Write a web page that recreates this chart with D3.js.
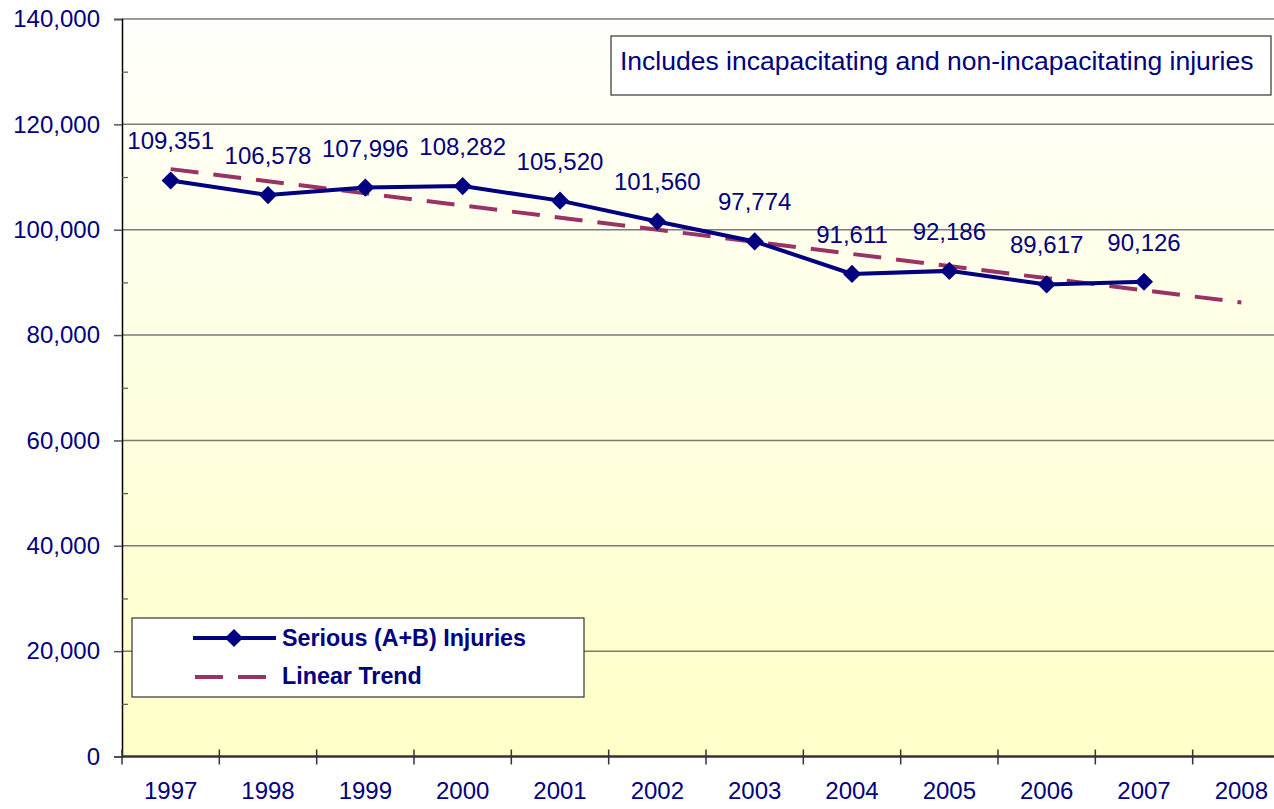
<!DOCTYPE html>
<html>
<head>
<meta charset="utf-8">
<script src="https://cdn.jsdelivr.net/npm/d3@7"></script>
<style>
  body { margin: 0; background: #fff; }
  svg text { font-family: "Liberation Sans", Arial, sans-serif; fill: #000080; }
</style>
</head>
<body>
<div class="chart"></div>
<script>
// data
var years = ["1997","1998","1999","2000","2001","2002","2003","2004","2005","2006","2007","2008"];
var injuryYears = ["1997","1998","1999","2000","2001","2002","2003","2004","2005","2006","2007"];
var injuries = [109351, 106578, 107996, 108282, 105520, 101560, 97774, 91611, 92186, 89617, 90126];
var trendYears = ["1997", "2008"];
var trendValues = [111500, 86200];
var yTicks = [0, 20000, 40000, 60000, 80000, 100000, 120000, 140000];
var yMinorTicks = [10000, 30000, 50000, 70000, 90000, 110000, 130000];
var noteText = "Includes incapacitating and non-incapacitating injuries";

var W = 1274, H = 809;
var plotLeft = 122, plotRight = 1290, plotTop = 19, plotBottom = 756.5;
var navy = "#000080", trendColor = "#993366";

var svg = d3.select(".chart")
  .append("svg")
  .attr("width", W)
  .attr("height", H);

var defs = svg.append("defs");
var grad = defs.append("linearGradient")
  .attr("id", "bg").attr("x1", 0).attr("y1", 0).attr("x2", 0).attr("y2", 1);
grad.append("stop").attr("offset", "0%").attr("stop-color", "#fffffb");
grad.append("stop").attr("offset", "100%").attr("stop-color", "#ffffc8");

var x = d3.scaleBand().domain(years).range([plotLeft, plotRight]);
var y = d3.scaleLinear().domain([0, 140000]).range([plotBottom, plotTop]);
var cx = function(d) { return x(d) + x.bandwidth() / 2; };

svg.append("rect")
  .attr("x", plotLeft).attr("y", plotTop)
  .attr("width", plotRight - plotLeft).attr("height", plotBottom - plotTop)
  .attr("fill", "url(#bg)");

// gridlines
svg.selectAll(".grid")
  .data(yTicks.filter(function(d) { return d > 0; }))
  .enter().append("line")
  .attr("x1", plotLeft).attr("x2", plotRight)
  .attr("y1", function(d) { return y(d); })
  .attr("y2", function(d) { return y(d); })
  .attr("stroke", "#7a7a7a")
  .attr("stroke-width", 1.5);

// y axis
var yAxis = svg.append("g")
  .attr("transform", "translate(" + plotLeft + ",0)")
  .call(d3.axisLeft(y).tickValues(yTicks).tickSize(8).tickPadding(14)
    .tickFormat(d3.format(",")));
yAxis.select(".domain").attr("stroke", "#000").attr("stroke-width", 1.5);
yAxis.selectAll(".tick line").attr("stroke", "#555").attr("stroke-width", 1.5);
yAxis.selectAll("text")
  .style("font-size", "24px")
  .attr("fill", navy);

svg.append("g")
  .attr("transform", "translate(" + plotLeft + ",0)")
  .call(d3.axisRight(y).tickValues(yMinorTicks).tickSize(6).tickFormat(""))
  .call(function(g) {
    g.select(".domain").remove();
    g.selectAll(".tick line").attr("stroke", "#555").attr("stroke-width", 1.2);
  });

// x axis
var xAxis = svg.append("g")
  .attr("transform", "translate(0," + plotBottom + ")")
  .call(d3.axisBottom(x).tickSize(0).tickPadding(25));
xAxis.select(".domain").remove();
xAxis.selectAll("text")
  .style("font-size", "24px")
  .attr("fill", navy);

svg.append("line")
  .attr("x1", plotLeft).attr("x2", plotRight)
  .attr("y1", plotBottom).attr("y2", plotBottom)
  .attr("stroke", "#333").attr("stroke-width", 2.5);

svg.selectAll(".xtick")
  .data(years)
  .enter().append("line")
  .attr("x1", function(d) { return x(d); })
  .attr("x2", function(d) { return x(d); })
  .attr("y1", plotBottom - 7).attr("y2", plotBottom + 8)
  .attr("stroke", "#333").attr("stroke-width", 1.5);

// trend
svg.append("path")
  .datum(trendValues)
  .attr("d", d3.line()
    .x(function(d, i) { return cx(trendYears[i]); })
    .y(function(d) { return y(d); }))
  .attr("fill", "none")
  .attr("stroke", trendColor)
  .attr("stroke-width", 4)
  .attr("stroke-dasharray", "28,15");

// injuries line
svg.append("path")
  .datum(injuries)
  .attr("d", d3.line()
    .x(function(d, i) { return cx(injuryYears[i]); })
    .y(function(d) { return y(d); }))
  .attr("fill", "none")
  .attr("stroke", navy)
  .attr("stroke-width", 4);

var diamond = d3.symbol().type(d3.symbolDiamond2).size(210);

svg.selectAll(".pt")
  .data(injuries)
  .enter().append("path")
  .attr("d", diamond)
  .attr("transform", function(d, i) {
    return "translate(" + cx(injuryYears[i]) + "," + y(d) + ")";
  })
  .attr("fill", navy);

svg.selectAll(".lbl")
  .data(injuries)
  .enter().append("text")
  .attr("x", function(d, i) { return cx(injuryYears[i]); })
  .attr("y", function(d) { return y(d) - 31; })
  .attr("text-anchor", "middle")
  .style("font-size", "24px")
  .text(function(d) { return d3.format(",")(d); });

// note box
svg.append("rect")
  .attr("x", 611).attr("y", 36)
  .attr("width", 660).attr("height", 59)
  .attr("fill", "#fff").attr("stroke", "#333").attr("stroke-width", 1.2);
svg.append("text")
  .attr("x", 620).attr("y", 70)
  .style("font-size", "26.5px")
  .text(noteText);

// legend
var legend = svg.append("g");
legend.append("rect")
  .attr("x", 132).attr("y", 618)
  .attr("width", 452).attr("height", 79)
  .attr("fill", "#fff").attr("stroke", "#333").attr("stroke-width", 1.2);
legend.append("line")
  .attr("x1", 193).attr("x2", 276).attr("y1", 638).attr("y2", 638)
  .attr("stroke", navy).attr("stroke-width", 4);
legend.append("path")
  .attr("d", diamond)
  .attr("transform", "translate(234,638)")
  .attr("fill", navy);
legend.append("line")
  .attr("x1", 195).attr("x2", 266).attr("y1", 677).attr("y2", 677)
  .attr("stroke", trendColor).attr("stroke-width", 4)
  .attr("stroke-dasharray", "28,15");
legend.append("text")
  .attr("x", 282).attr("y", 646)
  .style("font-size", "23.3px").style("font-weight", "bold")
  .text("Serious (A+B) Injuries");
legend.append("text")
  .attr("x", 282).attr("y", 684)
  .style("font-size", "23.3px").style("font-weight", "bold")
  .text("Linear Trend");
</script>
</body>
</html>
